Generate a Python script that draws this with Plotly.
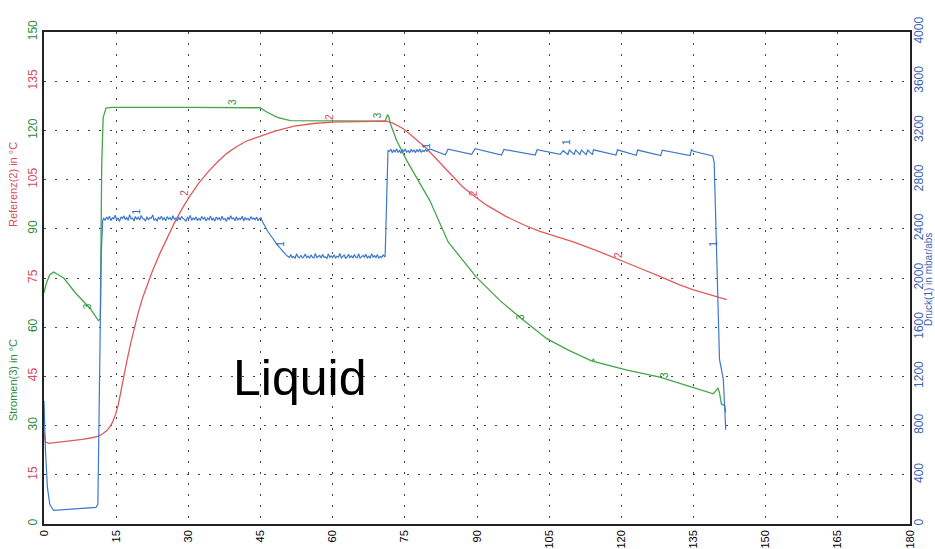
import plotly.graph_objects as go

# ---------------- data ----------------
# Stromen(3) in °C  (green, left axis)
green_pts = [(0, 70.5), (0.5, 73.5), (1.2, 76.0), (2.0, 76.8), (2.6, 76.3), (4.1, 75.0),
             (6.5, 70.5), (9.6, 65.7), (11.3, 62.0), (11.7, 62.5), (12.0, 110.0), (12.3, 124.0),
             (12.9, 126.8), (14.0, 127.0), (30.0, 127.0), (44.9, 126.9), (46.3, 125.6),
             (48.5, 124.0), (51.2, 123.0), (60.0, 122.9), (70.9, 122.8), (71.2, 124.0),
             (71.4, 124.8), (71.7, 124.0), (72.0, 122.0), (73.3, 116.9), (75.4, 110.8),
             (80.2, 98.6), (84.0, 86.0), (89.9, 75.2), (94.8, 68.1), (98.9, 63.0),
             (104.5, 56.5), (109.0, 53.0), (114.0, 49.6), (114.2, 50.4), (114.4, 49.5),
             (121.0, 47.0), (128.0, 44.8), (134.0, 42.0), (139.1, 39.7), (139.6, 40.5),
             (140.1, 41.5), (140.4, 40.0), (140.8, 36.6), (141.5, 36.1), (141.7, 34.0)]

# Referenz(2) in °C  (red, left axis)
red_pts = [(0, 28.0), (0.3, 25.0), (1.0, 24.6), (3.0, 24.9), (5.5, 25.2), (8.0, 25.8),
           (10.0, 26.3), (11.3, 26.8), (12.2, 27.5), (13.0, 28.4), (13.7, 29.6), (14.3, 31.2),
           (14.9, 33.5), (15.5, 36.8), (16.0, 40.5), (16.5, 44.5), (17.2, 49.5), (18.0, 55.0),
           (18.7, 59.5), (19.5, 64.0), (20.5, 69.0), (21.5, 73.0), (22.5, 77.0), (24.0, 82.2),
           (25.5, 87.0), (27.0, 91.5), (28.5, 95.6), (30.0, 99.3), (32.0, 103.6), (34.0, 107.2),
           (36.0, 110.3), (38.0, 113.0), (40.0, 115.0), (42.0, 116.7), (44.9, 118.2),
           (48.0, 119.8), (52.0, 121.3), (56.0, 122.1), (60.0, 122.5), (65.0, 122.7),
           (71.2, 122.8), (72.5, 122.2), (74.7, 120.5), (77.0, 117.7), (79.6, 114.4),
           (82.0, 110.6), (85.1, 105.7), (87.0, 102.8), (89.2, 100.2), (92.0, 97.2),
           (96.0, 93.8), (100.0, 91.0), (103.1, 89.2), (106.0, 87.8), (110.0, 86.0),
           (115.0, 83.3), (119.7, 80.6), (124.0, 77.9), (128.0, 75.5), (132.0, 73.0),
           (135.0, 71.4), (138.5, 69.8), (141.9, 68.4)]

# Druck(1) in mbar/abs  (blue, right axis) -- start / transitions / sawtooth
blue_start = [(0, 1000), (0.3, 600), (0.7, 300), (1.2, 160), (2.0, 110), (6.0, 120),
              (10.8, 135), (11.2, 160), (11.9, 2200), (12.2, 2470)]
# noisy plateau 1
plat1_t = [12.4, 12.7, 13.0, 13.3, 13.6, 13.9, 14.2, 14.5, 14.8, 15.1,
           15.4, 15.7, 16.0, 16.3, 16.6, 16.9, 17.2, 17.5, 17.8, 18.1,
           18.4, 18.7, 19.0, 19.3, 19.6, 19.9, 20.2, 20.5, 20.8, 21.1,
           21.4, 21.7, 22.0, 22.3, 22.6, 22.9, 23.2, 23.5, 23.8, 24.1,
           24.4, 24.7, 25.0, 25.3, 25.6, 25.9, 26.2, 26.5, 26.8, 27.1,
           27.4, 27.7, 28.0, 28.3, 28.6, 28.9, 29.2, 29.5, 29.8, 30.1,
           30.4, 30.7, 31.0, 31.3, 31.6, 31.9, 32.2, 32.5, 32.8, 33.1,
           33.4, 33.7, 34.0, 34.3, 34.6, 34.9, 35.2, 35.5, 35.8, 36.1,
           36.4, 36.7, 37.0, 37.3, 37.6, 37.9, 38.2, 38.5, 38.8, 39.1,
           39.4, 39.7, 40.0, 40.3, 40.6, 40.9, 41.2, 41.5, 41.8, 42.1,
           42.4, 42.7, 43.0, 43.3, 43.6, 43.9, 44.2, 44.5, 44.8, 45.1]
plat1_p = [2485, 2470, 2495, 2478, 2502, 2466, 2490, 2481, 2510, 2472,
           2488, 2460, 2497, 2483, 2505, 2475, 2492, 2468, 2515, 2480,
           2487, 2463, 2500, 2476, 2494, 2471, 2508, 2484, 2479, 2462,
           2498, 2473, 2490, 2486, 2512, 2469, 2482, 2461, 2496, 2477,
           2503, 2474, 2489, 2465, 2499, 2480, 2491, 2470, 2506, 2478,
           2486, 2464, 2495, 2472, 2501, 2483, 2476, 2460, 2493, 2481,
           2509, 2468, 2488, 2475, 2497, 2466, 2484, 2471, 2500, 2479,
           2492, 2463, 2487, 2474, 2504, 2470, 2485, 2462, 2496, 2478,
           2490, 2467, 2502, 2476, 2483, 2460, 2494, 2473, 2507, 2481,
           2488, 2465, 2498, 2470, 2486, 2477, 2503, 2464, 2491, 2475,
           2485, 2468, 2499, 2479, 2489, 2471, 2495, 2466, 2484, 2490]
blue_drop1 = [(45.4, 2460), (46.5, 2380), (48.5, 2270), (50.5, 2180)]
# noisy plateau 2
plat2_t = [51.0, 51.3, 51.6, 51.9, 52.2, 52.5, 52.8, 53.1, 53.4, 53.7,
           54.0, 54.3, 54.6, 54.9, 55.2, 55.5, 55.8, 56.1, 56.4, 56.7,
           57.0, 57.3, 57.6, 57.9, 58.2, 58.5, 58.8, 59.1, 59.4, 59.7,
           60.0, 60.3, 60.6, 60.9, 61.2, 61.5, 61.8, 62.1, 62.4, 62.7,
           63.0, 63.3, 63.6, 63.9, 64.2, 64.5, 64.8, 65.1, 65.4, 65.7,
           66.0, 66.3, 66.6, 66.9, 67.2, 67.5, 67.8, 68.1, 68.4, 68.7,
           69.0, 69.3, 69.6, 69.9, 70.2, 70.5]
plat2_p = [2168, 2190, 2166, 2175, 2162, 2198, 2170, 2165, 2185, 2163,
           2172, 2195, 2167, 2178, 2161, 2188, 2169, 2164, 2200, 2166,
           2174, 2183, 2162, 2192, 2168, 2171, 2160, 2196, 2167, 2180,
           2165, 2189, 2163, 2176, 2169, 2199, 2164, 2172, 2186, 2161,
           2170, 2194, 2166, 2179, 2163, 2191, 2168, 2165, 2197, 2162,
           2173, 2184, 2167, 2193, 2164, 2177, 2161, 2198, 2169, 2182,
           2166, 2190, 2163, 2175, 2168, 2187]
blue_jump = [(70.9, 2170), (71.2, 2600), (71.5, 3035)]
# noisy plateau 3
plat3_t = [71.8, 72.1, 72.4, 72.7, 73.0, 73.3, 73.6, 73.9, 74.2, 74.5,
           74.8, 75.1, 75.4, 75.7, 76.0, 76.3, 76.6, 76.9, 77.2, 77.5,
           77.8, 78.1, 78.4, 78.7, 79.0, 79.3, 79.6]
plat3_p = [3030, 3045, 3018, 3040, 3025, 3050, 3020, 3038, 3015, 3042,
           3028, 3048, 3022, 3035, 3017, 3046, 3026, 3040, 3019, 3044,
           3024, 3049, 3021, 3037, 3027, 3043, 3030]
blue_saw = [(80.2, 3050), (83.4, 3002), (84.0, 3048), (88.9, 3005), (89.6, 3052), (95.1, 3000),
            (95.6, 3045), (102.1, 3000), (102.5, 3043), (107.3, 3005), (107.9, 3035),
            (108.9, 3005), (109.2, 3040), (110.2, 3005), (110.5, 3040), (111.4, 3005),
            (111.7, 3040), (112.7, 3003), (113.0, 3040), (114.0, 3003), (114.2, 3042),
            (118.9, 3000), (119.2, 3042), (123.1, 2998), (123.4, 3040), (128.2, 2995),
            (128.5, 3040), (134.3, 2995), (134.6, 3045), (135.0, 3030), (139.0, 2992),
            (139.3, 2940), (140.4, 1340), (141.2, 1176), (141.5, 985), (141.7, 766)]

x_ticks = [0, 15, 30, 45, 60, 75, 90, 105, 120, 135, 150, 165, 180]
y_ticks = [0, 15, 30, 45, 60, 75, 90, 105, 120, 135, 150]
y2_ticks = [0, 400, 800, 1200, 1600, 2000, 2400, 2800, 3200, 3600, 4000]

# curve labels (x, y)
green_labels = [(9.2, 66.5), (39.3, 128.7), (69.2, 124.6), (99.0, 63.2), (129.0, 45.3)]
red_labels = [(29.3, 101.0), (59.3, 124.2), (89.2, 100.9), (119.3, 82.0)]
blue_labels = [(19.3, 2540), (49.1, 2280), (79.6, 3075), (108.6, 3110), (139.1, 2280)]

GREEN = "rgb(70,165,75)"
RED = "rgb(225,90,90)"
BLUE = "rgb(60,120,205)"
GREEN_T = "rgb(45,140,60)"
RED_T = "rgb(215,75,90)"
BLUE_T = "rgb(60,100,180)"
FONT = "Liberation Sans, Arial, sans-serif"

blue_t = ([p[0] for p in blue_start] + plat1_t + [p[0] for p in blue_drop1] + plat2_t
          + [p[0] for p in blue_jump] + plat3_t + [p[0] for p in blue_saw])
blue_p = ([p[1] for p in blue_start] + plat1_p + [p[1] for p in blue_drop1] + plat2_p
          + [p[1] for p in blue_jump] + plat3_p + [p[1] for p in blue_saw])

fig = go.Figure()
fig.add_trace(go.Scatter(x=[p[0] for p in green_pts], y=[p[1] for p in green_pts],
                         mode="lines", line=dict(color=GREEN, width=1.3), showlegend=False))
fig.add_trace(go.Scatter(x=[p[0] for p in red_pts], y=[p[1] for p in red_pts],
                         mode="lines", line=dict(color=RED, width=1.3), showlegend=False))
fig.add_trace(go.Scatter(x=blue_t, y=blue_p, yaxis="y2",
                         mode="lines", line=dict(color=BLUE, width=1.2), showlegend=False))

left_text = []
for i, v in enumerate(y_ticks):
    c = GREEN_T if i % 2 == 0 else RED_T
    left_text.append(f'<span style="color:{c}">{v}</span>')

grid = dict(showgrid=True, gridcolor="#444", gridwidth=1, griddash="2px,9px")

L, R, T, B = 44, 25, 32, 25
fig.update_layout(
    width=935, height=549,
    margin=dict(l=L, r=R, t=T, b=B, autoexpand=False),
    paper_bgcolor="white", plot_bgcolor="white",
    font=dict(family=FONT, size=12, color="black"),
    xaxis=dict(range=[0, 180], tickvals=x_ticks, ticktext=[str(v) for v in x_ticks],
               tickangle=-90, showline=True, mirror=True, linecolor="#222", linewidth=1.5,
               zeroline=False, ticks="", automargin=False, ticklabelstandoff=0,
               tickfont=dict(size=11, color="black"), **grid),
    yaxis=dict(range=[0, 150], tickvals=y_ticks, ticktext=left_text, tickangle=-90,
               showline=True, mirror=True, linecolor="#222", linewidth=1.5,
               zeroline=False, ticks="", automargin=False, tickfont=dict(size=12), **grid),
    yaxis2=dict(range=[0, 4000], tickvals=y2_ticks, ticktext=[str(v) for v in y2_ticks],
                overlaying="y", side="right", tickangle=-90, showgrid=False, zeroline=False,
                showline=False, ticks="", automargin=False,
                tickfont=dict(size=12, color=BLUE_T)),
)

ann = []
for (x, y) in green_labels:
    ann.append(dict(x=x, y=y, xref="x", yref="y", text="3", showarrow=False, textangle=-90,
                    font=dict(size=10, color=GREEN_T, family=FONT)))
for (x, y) in red_labels:
    ann.append(dict(x=x, y=y, xref="x", yref="y", text="2", showarrow=False, textangle=-90,
                    font=dict(size=10, color=RED_T, family=FONT)))
for (x, y) in blue_labels:
    ann.append(dict(x=x, y=y, xref="x", yref="y2", text="1", showarrow=False, textangle=-90,
                    font=dict(size=10, color=BLUE_T, family=FONT)))

pw, ph = 935 - L - R, 549 - T - B
def px(xp, yp):
    return (xp - L) / pw, (549 - yp - B) / ph

for (txt, xp, yp, col, fs) in [("Referenz(2) in °C", 13, 185, RED_T, 11),
                               ("Stromen(3) in °C", 13, 380, GREEN_T, 11),
                               ("Druck(1) in mbar/abs", 928, 280, BLUE_T, 10)]:
    xx, yy = px(xp, yp)
    ann.append(dict(x=xx, y=yy, xref="paper", yref="paper", text=txt, showarrow=False,
                    textangle=-90, xanchor="center", yanchor="middle",
                    font=dict(size=fs, color=col, family=FONT)))

ann.append(dict(x=53.2, y=44.4, xref="x", yref="y", text="Liquid", showarrow=False,
                font=dict(size=50, color="black", family=FONT)))
fig.update_layout(annotations=ann)

fig.write_html("out.html", config={"displayModeBar": False},
               post_script="document.body.style.margin='0';document.body.style.padding='0';"
                           "document.body.style.overflow='hidden';")
